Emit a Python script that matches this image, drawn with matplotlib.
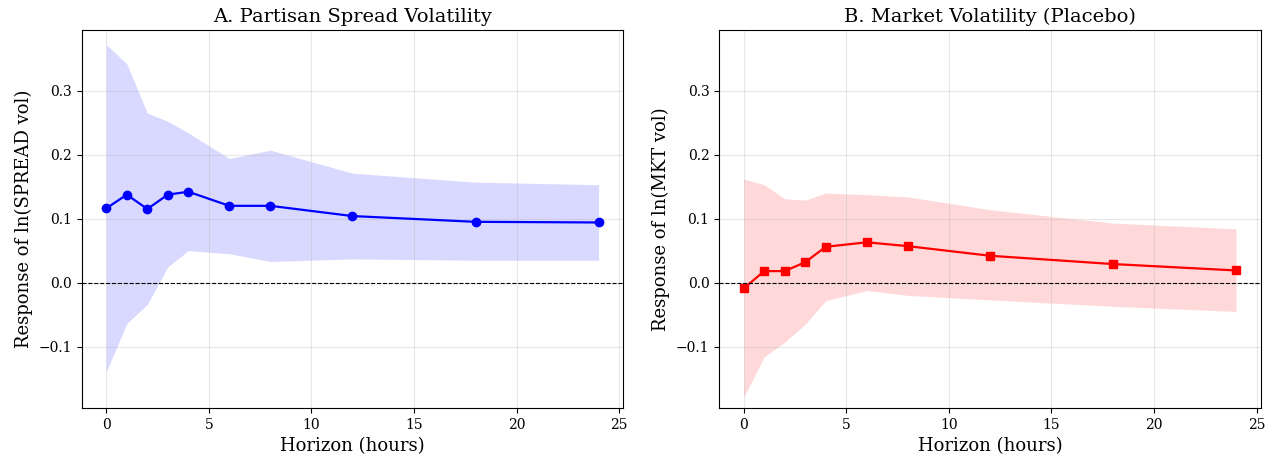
import matplotlib
matplotlib.use("Agg")
import matplotlib.pyplot as plt

plt.rcParams['font.family'] = 'DejaVu Serif'

horizons = [0, 1, 2, 3, 4, 6, 8, 12, 18, 24]

# Panel A: partisan spread volatility
spread_irf = [0.116, 0.1375, 0.115, 0.1375, 0.142, 0.120, 0.120, 0.104, 0.095, 0.094]
spread_hi = [0.372, 0.342, 0.265, 0.252, 0.234, 0.194, 0.207, 0.171, 0.157, 0.153]
spread_lo = [-0.139, -0.064, -0.034, 0.0245, 0.050, 0.045, 0.033, 0.037, 0.035, 0.035]

# Panel B: market volatility (placebo)
mkt_irf = [-0.009, 0.018, 0.018, 0.032, 0.056, 0.063, 0.057, 0.042, 0.029, 0.019]
mkt_hi = [0.162, 0.153, 0.131, 0.129, 0.140, 0.1375, 0.134, 0.114, 0.093, 0.084]
mkt_lo = [-0.179, -0.116, -0.093, -0.065, -0.028, -0.0125, -0.020, -0.027, -0.037, -0.045]

panels = [
    ("A. Partisan Spread Volatility", "Response of ln(SPREAD vol)",
     spread_irf, spread_lo, spread_hi, "blue", "o"),
    ("B. Market Volatility (Placebo)", "Response of ln(MKT vol)",
     mkt_irf, mkt_lo, mkt_hi, "red", "s"),
]

fig, axes = plt.subplots(1, 2, figsize=(12.76, 4.59), dpi=100)
fig.subplots_adjust(left=0.064, right=0.988, bottom=0.111, top=0.935, wspace=0.177)

for ax, (title, ylabel, irf, lo, hi, color, marker) in zip(axes, panels):
    ax.fill_between(horizons, lo, hi, color=color, alpha=0.15, linewidth=0)
    ax.plot(horizons, irf, color=color, marker=marker, markersize=6, linewidth=1.6)
    ax.axhline(0, color='black', linestyle='--', linewidth=0.8)
    ax.set_title(title, fontsize=14)
    ax.set_xlabel("Horizon (hours)", fontsize=13)
    ax.set_ylabel(ylabel, fontsize=13)
    ax.set_xlim(-1.2, 25.2)
    ax.set_ylim(-0.196, 0.395)
    ax.set_yticks([-0.1, 0.0, 0.1, 0.2, 0.3])
    ax.set_xticks([0, 5, 10, 15, 20, 25])
    ax.tick_params(labelsize=10)
    ax.grid(True, alpha=0.3)

fig.savefig("out.png", dpi=100)
